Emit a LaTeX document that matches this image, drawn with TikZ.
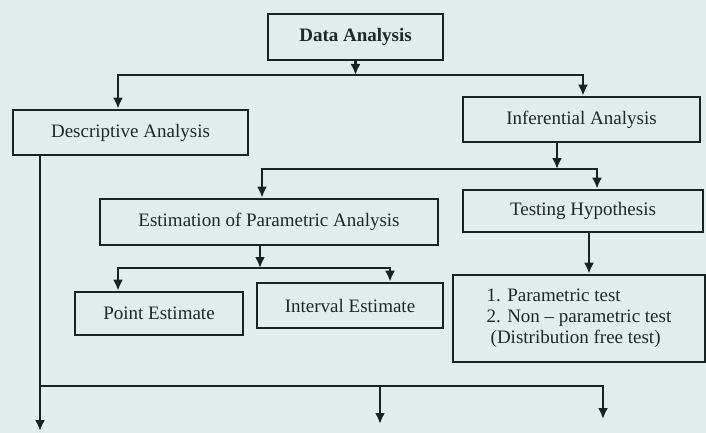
\documentclass[tikz,border=0pt]{standalone}
\usepackage{fontspec}
\setmainfont{Liberation Serif}
\usetikzlibrary{arrows.meta}
\definecolor{paper}{RGB}{227,236,236}
\definecolor{ink}{RGB}{24,34,34}
\definecolor{txt}{RGB}{30,40,42}

\begin{document}
\begin{tikzpicture}[x=1pt,y=-1pt,
  box/.style={draw=ink, line width=2.6pt, fill=paper, text=txt, inner sep=0pt,
              font=\fontsize{19}{21}\selectfont},
  link/.style={draw=ink, line width=2.2pt},
  arr/.style={link, -{Latex[length=11pt,width=10pt]}}]

% page
\useasboundingbox (0,0) rectangle (706,433);
\fill[paper] (0,0) rectangle (706,433);

% boxes
\node[box, minimum width=175pt, minimum height=46pt] (data) at (355.5,37) {\bfseries Data Analysis};
\node[box, minimum width=235pt, minimum height=45pt] (desc) at (130.5,132.5) {Descriptive Analysis};
\node[box, minimum width=237pt, minimum height=45pt] (infer) at (581.5,119.5) {Inferential Analysis};
\node[box, minimum width=338pt, minimum height=46pt] (estim) at (269,222) {Estimation of Parametric Analysis};
\node[box, minimum width=240pt, minimum height=42pt] (testing) at (583,211) {Testing Hypothesis};
\node[box, minimum width=168pt, minimum height=43pt] (point) at (159,313.5) {Point Estimate};
\node[box, minimum width=186pt, minimum height=45pt] (interval) at (350,305.5) {Interval Estimate};
\node[box, minimum width=252pt, minimum height=87pt, align=left] (list) at (579,318.5)
  {1. Parametric test\\2. Non -- parametric test\\\hspace{4pt}(Distribution free test)};

% junction and turning points
\coordinate (j1) at (355.5,75);
\coordinate (j1l) at (118,75);
\coordinate (j1r) at (583,75);
\coordinate (j2) at (557,169);
\coordinate (j2l) at (262,169);
\coordinate (j2r) at (597,169);
\coordinate (j3) at (260,268);
\coordinate (j3l) at (118,268);
\coordinate (j3r) at (390,268);
\coordinate (t4) at (589,0);
\coordinate (j5) at (40,386);
\coordinate (e1) at (40,431);
\coordinate (e2) at (380,424);
\coordinate (e3) at (603,419);

% Data Analysis branches
\draw[arr] (data.south) -- (j1);
\draw[arr] (j1) -| (j1l |- desc.north);
\draw[arr] (j1) -| (j1r |- infer.north);

% Inferential Analysis branches
\draw[arr] (j2 |- infer.south) -- (j2);
\draw[arr] (j2) -| (j2l |- estim.north);
\draw[arr] (j2) -| (j2r |- testing.north);

% Estimation branches
\draw[arr] (j3 |- estim.south) -- (j3);
\draw[arr] (j3) -| (j3l |- point.north);
\draw[arr] (j3) -| (j3r |- interval.north);

% Testing Hypothesis to tests
\draw[arr] (t4 |- testing.south) -- (t4 |- list.north);

% outgoing lines at the foot
\draw[arr] (e1 |- desc.south) -- (e1);
\draw[arr] (j5) -| (e2);
\draw[arr] (j5) -| (e3);
\end{tikzpicture}
\end{document}
